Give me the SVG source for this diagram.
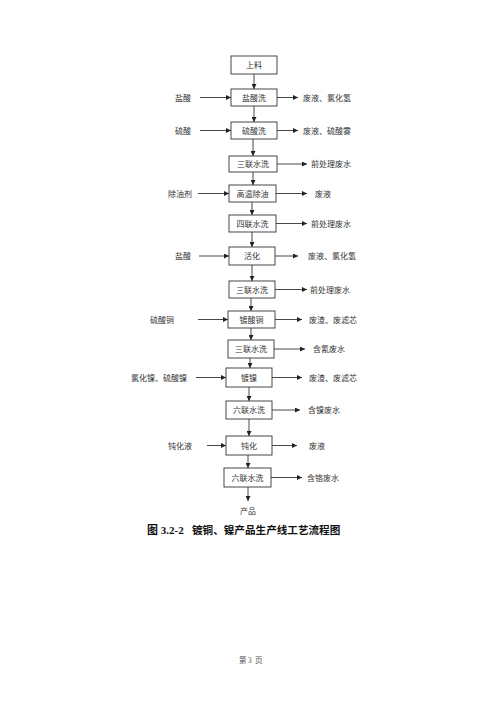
<svg xmlns="http://www.w3.org/2000/svg" width="500" height="707" viewBox="0 0 500 707">
<defs>
<marker id="ah" viewBox="0 0 10 10" refX="10" refY="5" markerWidth="5" markerHeight="5" orient="auto" markerUnits="userSpaceOnUse"><path d="M0,0 L10,5 L0,10 z" fill="#222"/></marker>
</defs>
<style>
.box{fill:#fff;stroke:#333;stroke-width:0.9}
.t{font-family:"Noto Sans CJK SC","Noto Sans",sans-serif;font-size:8px;fill:#333}
.c{text-anchor:middle}
.ln{stroke:#333;stroke-width:0.9;fill:none;marker-end:url(#ah)}
.cap{font-family:"Liberation Serif","Noto Sans CJK SC",serif;font-size:11px;font-weight:bold;fill:#111}
.pg{font-family:"Liberation Serif","Noto Sans CJK SC",serif;font-size:7.5px;fill:#555}
</style>
<rect width="500" height="707" fill="#fff"/>
<g id="connectors">
<line class="ln" x1="254" y1="74" x2="254" y2="89"/>
<line class="ln" x1="254" y1="106" x2="254" y2="122"/>
<line class="ln" x1="253" y1="139" x2="253" y2="156"/>
<line class="ln" x1="253" y1="172" x2="253" y2="185"/>
<line class="ln" x1="252" y1="202" x2="252" y2="215"/>
<line class="ln" x1="252" y1="232" x2="252" y2="247"/>
<line class="ln" x1="252" y1="265" x2="252" y2="281"/>
<line class="ln" x1="251" y1="298" x2="251" y2="311"/>
<line class="ln" x1="251" y1="328" x2="251" y2="340"/>
<line class="ln" x1="250" y1="358" x2="250" y2="368"/>
<line class="ln" x1="249" y1="387" x2="249" y2="401"/>
<line class="ln" x1="249" y1="419" x2="249" y2="436"/>
<line class="ln" x1="248" y1="455" x2="248" y2="468"/>
<line class="ln" x1="248" y1="487" x2="248" y2="501"/>
<line class="ln" x1="200" y1="97.5" x2="231" y2="97.5"/>
<line class="ln" x1="200" y1="130.5" x2="231" y2="130.5"/>
<line class="ln" x1="198" y1="193.5" x2="229" y2="193.5"/>
<line class="ln" x1="199" y1="256" x2="229" y2="256"/>
<line class="ln" x1="198" y1="319.5" x2="228" y2="319.5"/>
<line class="ln" x1="196" y1="377.5" x2="226" y2="377.5"/>
<line class="ln" x1="207" y1="445.5" x2="226" y2="445.5"/>
<line class="ln" x1="277" y1="97.5" x2="298" y2="97.5"/>
<line class="ln" x1="277" y1="130.5" x2="298" y2="130.5"/>
<line class="ln" x1="277" y1="164" x2="307" y2="164"/>
<line class="ln" x1="276" y1="193.5" x2="307" y2="193.5"/>
<line class="ln" x1="276" y1="223.5" x2="307" y2="223.5"/>
<line class="ln" x1="275" y1="256" x2="298" y2="256"/>
<line class="ln" x1="275" y1="289.5" x2="307" y2="289.5"/>
<line class="ln" x1="275" y1="319.5" x2="302" y2="319.5"/>
<line class="ln" x1="274" y1="349" x2="305" y2="349"/>
<line class="ln" x1="272" y1="377.5" x2="302" y2="377.5"/>
<line class="ln" x1="272" y1="410" x2="300" y2="410"/>
<line class="ln" x1="272" y1="445.5" x2="297" y2="445.5"/>
<line class="ln" x1="271" y1="477.5" x2="302" y2="477.5"/>
</g>
<g id="n1"><rect class="box" x="231" y="56" width="46" height="18"/><text class="t c" x="254" y="68">上料</text></g>
<g id="n2"><rect class="box" x="231" y="89" width="46" height="17"/><text class="t c" x="254" y="100.5">盐酸洗</text></g>
<g id="n3"><rect class="box" x="231" y="122" width="46" height="17"/><text class="t c" x="254" y="133.5">硫酸洗</text></g>
<g id="n4"><rect class="box" x="229" y="156" width="48" height="16"/><text class="t c" x="253" y="167">三联水洗</text></g>
<g id="n5"><rect class="box" x="229" y="185" width="47" height="17"/><text class="t c" x="252.5" y="196.5">高温除油</text></g>
<g id="n6"><rect class="box" x="229" y="215" width="47" height="17"/><text class="t c" x="252.5" y="226.5">四联水洗</text></g>
<g id="n7"><rect class="box" x="229" y="247" width="46" height="18"/><text class="t c" x="252" y="259">活化</text></g>
<g id="n8"><rect class="box" x="229" y="281" width="46" height="17"/><text class="t c" x="252" y="292.5">三联水洗</text></g>
<g id="n9"><rect class="box" x="228" y="311" width="47" height="17"/><text class="t c" x="251.5" y="322.5">镀酸铜</text></g>
<g id="n10"><rect class="box" x="228" y="340" width="46" height="18"/><text class="t c" x="251" y="352">三联水洗</text></g>
<g id="n11"><rect class="box" x="226" y="368" width="46" height="19"/><text class="t c" x="249" y="380.5">镀镍</text></g>
<g id="n12"><rect class="box" x="226" y="401" width="46" height="18"/><text class="t c" x="249" y="413">六联水洗</text></g>
<g id="n13"><rect class="box" x="226" y="436" width="46" height="19"/><text class="t c" x="249" y="448.5">钝化</text></g>
<g id="n14"><rect class="box" x="224" y="468" width="47" height="19"/><text class="t c" x="247.5" y="480.5">六联水洗</text></g>
<g id="inputs">
<text class="t" x="175" y="100.5">盐酸</text>
<text class="t" x="175" y="133.5">硫酸</text>
<text class="t" x="168" y="196.5">除油剂</text>
<text class="t" x="175" y="259">盐酸</text>
<text class="t" x="150" y="322.5">硫酸铜</text>
<text class="t" x="131" y="380.5">氯化镍、硫酸镍</text>
<text class="t" x="168" y="448.5">钝化液</text>
</g>
<g id="outputs">
<text class="t" x="303" y="100.5">废液、氯化氢</text>
<text class="t" x="303" y="133.5">废液、硫酸雾</text>
<text class="t" x="311" y="167">前处理废水</text>
<text class="t" x="315" y="196.5">废液</text>
<text class="t" x="311" y="226.5">前处理废水</text>
<text class="t" x="308" y="259">废液、氯化氢</text>
<text class="t" x="310" y="292.5">前处理废水</text>
<text class="t" x="309" y="322.5">废渣、废滤芯</text>
<text class="t" x="313" y="352">含氰废水</text>
<text class="t" x="309" y="380.5">废渣、废滤芯</text>
<text class="t" x="308" y="413">含镍废水</text>
<text class="t" x="309" y="448.5">废液</text>
<text class="t" x="307" y="480.5">含铬废水</text>
</g>
<g id="product"><text class="t c" x="248" y="514">产品</text></g>
<text class="cap" x="147" y="534">图 3.2-2<tspan x="192" font-size="10.6">镀铜、镍产品生产线工艺流程图</tspan></text>
<text class="pg" x="239" y="663">第<tspan x="248">3</tspan><tspan x="255">页</tspan></text>
</svg>
